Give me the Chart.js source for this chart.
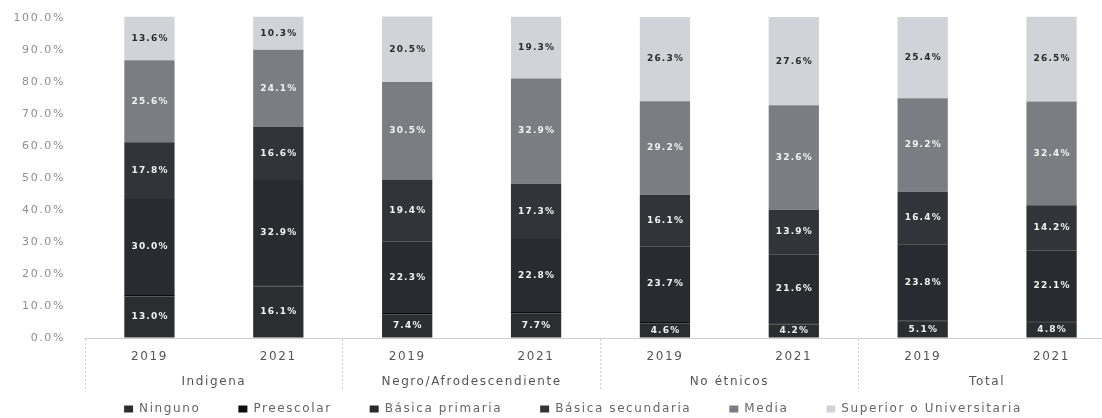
<!DOCTYPE html>
<html>
<head>
<meta charset="utf-8">
<script src="https://cdn.jsdelivr.net/npm/chart.js"></script>
<style>
html, body { margin: 0; padding: 0; background: #fff; overflow: hidden; }
#wrap { width: 1146px; height: 418px; position: relative; }
</style>
</head>
<body>
<div id="wrap"><canvas id="chart"></canvas></div>
<script>
// data (percent of people per level)
const years = ['2019', '2021', '2019', '2021', '2019', '2021', '2019', '2021'];
const groups = ['Indigena', 'Negro/Afrodescendiente', 'No étnicos', 'Total'];
const seriesNames = ['Ninguno', 'Preescolar', 'Básica primaria', 'Básica secundaria', 'Media', 'Superior o Universitaria'];
const ninguno = [13.0, 16.1, 7.4, 7.7, 4.6, 4.2, 5.1, 4.8];
const preescolar = [0.4, 0.4, 0.4, 0.4, 0.4, 0.4, 0.4, 0.4];
const primaria = [30.0, 32.9, 22.3, 22.8, 23.7, 21.6, 23.8, 22.1];
const secundaria = [17.8, 16.6, 19.4, 17.3, 16.1, 13.9, 16.4, 14.2];
const media = [25.6, 24.1, 30.5, 32.9, 29.2, 32.6, 29.2, 32.4];
const superior = [13.6, 10.3, 20.5, 19.3, 26.3, 27.6, 25.4, 26.5];

const colors = ['#2c2d31', '#0c0c0e', '#2a2b30', '#333439', '#7c7d83', '#d2d3d8'];
const labelColors = ['#f2f2f2', null, '#f2f2f2', '#f2f2f2', '#f2f2f2', '#2a2a2a'];
const values = [ninguno, preescolar, primaria, secundaria, media, superior];

Chart.defaults.font.family = '"DejaVu Sans", sans-serif';

// scanned look: letters spread out a bit
const spacing = {
  id: 'spacing',
  beforeUpdate(chart) { chart.ctx.letterSpacing = '1.6px'; },
  beforeDraw(chart) { chart.ctx.letterSpacing = '1.6px'; }
};

// value labels in the middle of each segment
const segLabels = {
  id: 'segLabels',
  afterDatasetsDraw(chart) {
    const ctx = chart.ctx;
    chart.data.datasets.forEach((ds, i) => {
      if (!labelColors[i]) return;
      const meta = chart.getDatasetMeta(i);
      meta.data.forEach((bar, j) => {
        const p = bar.getCenterPoint();
        ctx.save();
        ctx.letterSpacing = '1.2px';
        ctx.font = 'bold 9px "DejaVu Sans"';
        ctx.fillStyle = labelColors[i];
        ctx.textAlign = 'center';
        ctx.textBaseline = 'middle';
        ctx.fillText(ds.data[j].toFixed(1) + '%', p.x + 0.6, p.y);
        ctx.restore();
      });
    });
  }
};

const datasets = seriesNames.map((name, i) => ({
  label: name,
  data: values[i],
  backgroundColor: colors[i],
  borderWidth: 0,
  barPercentage: 0.39,
  categoryPercentage: 1,
  clip: false
}));

new Chart(document.getElementById('chart'), {
  type: 'bar',
  data: { labels: years, datasets: datasets },
  plugins: [spacing, segLabels],
  options: {
    responsive: true,
    maintainAspectRatio: false,
    animation: false,
    layout: { padding: { top: 18, left: 0, right: 0, bottom: 0 } },
    plugins: {
      tooltip: { enabled: false },
      legend: {
        position: 'bottom',
        maxHeight: 53,
        labels: {
          boxWidth: 9,
          boxHeight: 7,
          padding: 38,
          color: '#666',
          font: { size: 12 }
        }
      }
    },
    scales: {
      x: {
        stacked: true,
        afterFit(s) { s.height = 25; },
        grid: {
          display: true,
          drawOnChartArea: false,
          offset: true,
          tickLength: 52,
          tickBorderDash: [2, 2],
          tickColor: (c) => (c.index % 2 === 0 ? '#cfcfcf' : 'rgba(0,0,0,0)')
        },
        border: { display: true, color: '#cfcfcf', dash: [2, 2] },
        ticks: { color: '#555', padding: -40, font: { size: 12 } }
      },
      x2: {
        type: 'category',
        position: 'bottom',
        labels: groups,
        offset: true,
        afterFit(s) { s.height = 2; },
        grid: { display: false, drawTicks: false },
        border: { display: false },
        ticks: { color: '#555', mirror: true, padding: -26, font: { size: 12 } }
      },
      y: {
        stacked: true,
        min: 0,
        max: 100,
        afterFit(s) { s.width = 85; },
        grid: {
          display: true,
          drawOnChartArea: false,
          tickLength: 20,
          tickColor: 'rgba(0,0,0,0)'
        },
        border: { display: false },
        ticks: {
          stepSize: 10,
          padding: 0,
          color: '#8f8f8f',
          font: { size: 11 },
          callback: (v) => v.toFixed(1) + '%'
        }
      },
      // empty strip on the right: the plot runs past the picture's edge
      yRight: {
        position: 'right',
        min: 0,
        max: 100,
        afterFit(s) { s.width = 30; },
        grid: { display: false },
        border: { display: false },
        ticks: { display: false }
      }
    }
  }
});
</script>
</body>
</html>
